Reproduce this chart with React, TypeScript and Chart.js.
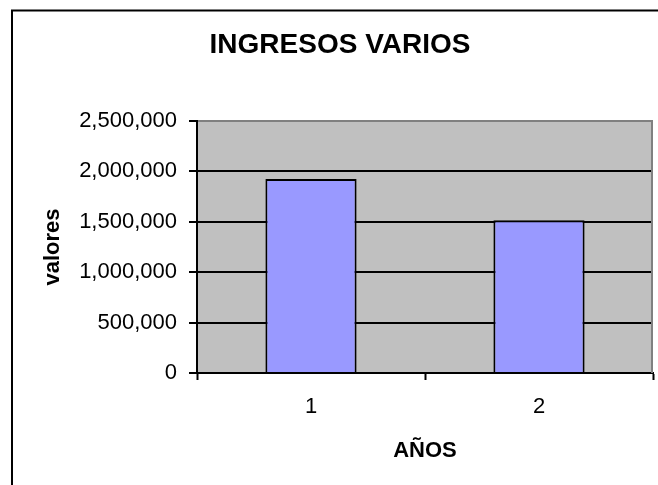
import React, { useEffect, useRef } from "react";
import { Chart, registerables } from "chart.js";

Chart.register(...registerables);

const categories: string[] = ["1", "2"];
const ingresos: number[] = [1925000, 1515000];
const yMin = 0;
const yMax = 2500000;
const yStep = 500000;
const titleText = "INGRESOS VARIOS";
const yTitle = "valores";
const xTitle = "AÑOS";

const FONT = "'Liberation Sans', Arial, Helvetica, sans-serif";

const decorPlugin = {
  id: "decor",
  beforeDraw(chart: any) {
    const { ctx, chartArea } = chart;
    ctx.save();
    ctx.fillStyle = "#ffffff";
    ctx.fillRect(0, 0, chart.width, chart.height);
    ctx.fillStyle = "#C0C0C0";
    ctx.fillRect(chartArea.left, chartArea.top, chartArea.right - chartArea.left, chartArea.bottom - chartArea.top);
    ctx.strokeStyle = "#000000";
    ctx.lineWidth = 2;
    ctx.strokeRect(12, 10.5, 800, 700);
    ctx.restore();
  },
  beforeDatasetsDraw(chart: any) {
    const { ctx, chartArea } = chart;
    ctx.save();
    ctx.strokeStyle = "#808080";
    ctx.lineWidth = 2;
    ctx.beginPath();
    ctx.moveTo(chartArea.right - 1, chartArea.top);
    ctx.lineTo(chartArea.right - 1, chartArea.bottom);
    ctx.stroke();
    ctx.restore();
  },
};

export default function App() {
  const ref = useRef<HTMLCanvasElement | null>(null);
  useEffect(() => {
    if (!ref.current) return;
    const chart = new Chart(ref.current, {
      type: "bar",
      data: {
        labels: categories,
        datasets: [
          {
            label: "Ingresos",
            data: ingresos,
            backgroundColor: "#9999FF",
            borderColor: "#000000",
            borderWidth: 2,
            categoryPercentage: 1,
            barPercentage: 0.4,
          },
        ],
      },
      options: {
        responsive: false,
        animation: false,
        events: [],
        layout: { padding: { left: 27, right: 5, top: 0, bottom: 0 } },
        plugins: {
          legend: { display: false },
          tooltip: { enabled: false },
          title: {
            display: true,
            text: titleText,
            color: "#000000",
            font: { family: FONT, size: 28, weight: "bold" },
            padding: { top: 28, bottom: 59.4 },
          },
        },
        scales: {
          x: {
            afterFit: (scale: any) => {
              scale.height = 112;
            },
            grid: {
              offset: true,
              drawOnChartArea: false,
              drawTicks: true,
              tickLength: 7,
              tickColor: "#000000",
              tickWidth: 2,
            },
            border: { display: true, color: "#000000", width: 2 },
            ticks: {
              color: "#000000",
              font: { family: FONT, size: 22 },
              padding: 14,
            },
            title: {
              display: true,
              text: xTitle,
              color: "#000000",
              font: { family: FONT, size: 22, weight: "bold" },
              padding: { top: 0, bottom: 21 },
            },
          },
          y: {
            min: yMin,
            max: yMax,
            afterFit: (scale: any) => {
              scale.width = 170;
            },
            grid: {
              color: (ctx: any) => (ctx.tick && ctx.tick.value === yMax ? "#808080" : "#000000"),
              lineWidth: 2,
              drawTicks: true,
              tickLength: 8,
              tickColor: "#000000",
              tickWidth: 2,
            },
            border: { display: true, color: "#000000", width: 2 },
            ticks: {
              stepSize: yStep,
              color: "#000000",
              font: { family: FONT, size: 22 },
              padding: 12,
              callback: (v: any) => Number(v).toLocaleString("en-US"),
            },
            title: {
              display: true,
              text: yTitle,
              color: "#000000",
              font: { family: FONT, size: 22, weight: "bold" },
              padding: { top: 13, bottom: 0 },
            },
          },
        },
      },
      plugins: [decorPlugin],
    });
    return () => chart.destroy();
  }, []);
  return (
    <div style={{ position: "absolute", left: 0, top: 0, width: 658, height: 485, background: "#fff" }}>
      <canvas ref={ref} width={658} height={485} style={{ display: "block" }} />
    </div>
  );
}
